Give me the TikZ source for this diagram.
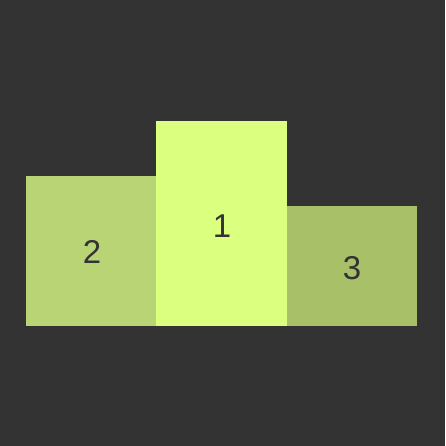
\documentclass[tikz,border=0pt]{standalone}
\usepackage{fontspec}
\setmainfont{Liberation Sans}
\definecolor{bg}{HTML}{333333}
\definecolor{cone}{HTML}{DBFF7F}
\definecolor{ctwo}{HTML}{B9D474}
\definecolor{cthree}{HTML}{A8C068}
\tikzset{
  block/.style={draw=none, inner sep=0pt, outer sep=0pt},
  lbl/.style={text=bg, font=\fontsize{33}{33}\selectfont, inner sep=0pt}
}
\begin{document}
\begin{tikzpicture}[x=1pt,y=-1pt]
\fill[bg] (0,0) rectangle (445,446);
\useasboundingbox (0,0) rectangle (445,446);
\fill[ctwo] (26,176) rectangle (156.5,326);
\fill[cone] (156,121) rectangle (287,326);
\fill[cthree] (287,206) rectangle (417,326);
\node[lbl] (two) at (92,252) {2};
\node[lbl] (one) at (222,226) {1};
\node[lbl] (three) at (352,268.5) {3};
\end{tikzpicture}
\end{document}
